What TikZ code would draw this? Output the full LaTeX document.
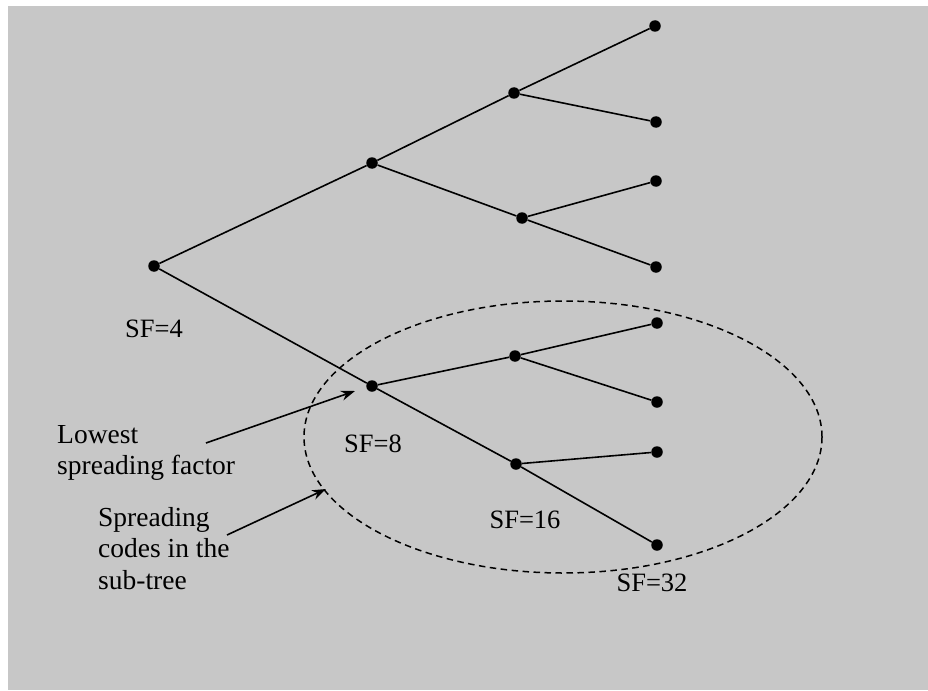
\documentclass[tikz,border=0pt]{standalone}
\usepackage{fontspec}
\setmainfont{Liberation Serif}
\usetikzlibrary{arrows.meta,shapes.geometric}
\definecolor{bgray}{RGB}{199,199,199}
\begin{document}
\begin{tikzpicture}[x=1pt,y=-1pt,
  dot/.style={circle,fill=black,inner sep=0pt,minimum size=11.5pt},
  edge/.style={line width=1.6pt},
  lbl/.style={font=\fontsize{26.5}{30}\selectfont,inner sep=0pt},
  note/.style={font=\fontsize{27.5}{31.5}\selectfont,align=left,inner sep=0pt,anchor=north west},
  pointer/.style={line width=1.6pt,-{Stealth[length=14pt,width=10pt]}},
  subtree/.style={ellipse,draw,dashed,dash pattern=on 6.5pt off 4.5pt,line width=1.5pt,minimum width=518pt,minimum height=272pt,inner sep=0pt}]
\useasboundingbox (0,0) rectangle (928,690);
\fill[white] (0,0) rectangle (928,690);
\fill[bgray] (8,6) rectangle (928,690);

% sub-tree ellipse
\node[subtree] (sub) at (563,437) {};

% nodes
\node[dot] (r) at (154,266) {};
\node[dot] (a) at (372,163) {};
\node[dot] (b) at (372,386) {};
\node[dot] (a1) at (514,93) {};
\node[dot] (a2) at (522,218) {};
\node[dot] (b1) at (515,356) {};
\node[dot] (b2) at (516,464) {};
\node[dot] (l1) at (655,26) {};
\node[dot] (l2) at (656,122) {};
\node[dot] (l3) at (656,181) {};
\node[dot] (l4) at (656,267) {};
\node[dot] (l5) at (657,323) {};
\node[dot] (l6) at (657,402) {};
\node[dot] (l7) at (657,452) {};
\node[dot] (l8) at (657,545) {};

% edges
\draw[edge] (r) -- (a);
\draw[edge] (r) -- (b);
\draw[edge] (a) -- (a1);
\draw[edge] (a) -- (a2);
\draw[edge] (a1) -- (l1);
\draw[edge] (a1) -- (l2);
\draw[edge] (a2) -- (l3);
\draw[edge] (a2) -- (l4);
\draw[edge] (b) -- (b1);
\draw[edge] (b) -- (b2);
\draw[edge] (b1) -- (l5);
\draw[edge] (b1) -- (l6);
\draw[edge] (b2) -- (l7);
\draw[edge] (b2) -- (l8);

% SF labels
\node[lbl] (sf4) at (154,329) {SF=4};
\node[lbl] (sf8) at (373,444) {SF=8};
\node[lbl] (sf16) at (525,520) {SF=16};
\node[lbl] (sf32) at (652,583) {SF=32};

% notes
\node[note] (low) at (57,425) {Lowest\\spreading factor};
\node[note] (codes) at (98,507) {Spreading\\codes in the\\sub-tree};

% pointers
\coordinate (p1s) at (206,443);
\coordinate (p1e) at (355,391);
\coordinate (p2s) at (227,535);
\coordinate (p2e) at (326,489);
\draw[pointer] (p1s) -- (p1e);
\draw[pointer] (p2s) -- (p2e);
\end{tikzpicture}
\end{document}
